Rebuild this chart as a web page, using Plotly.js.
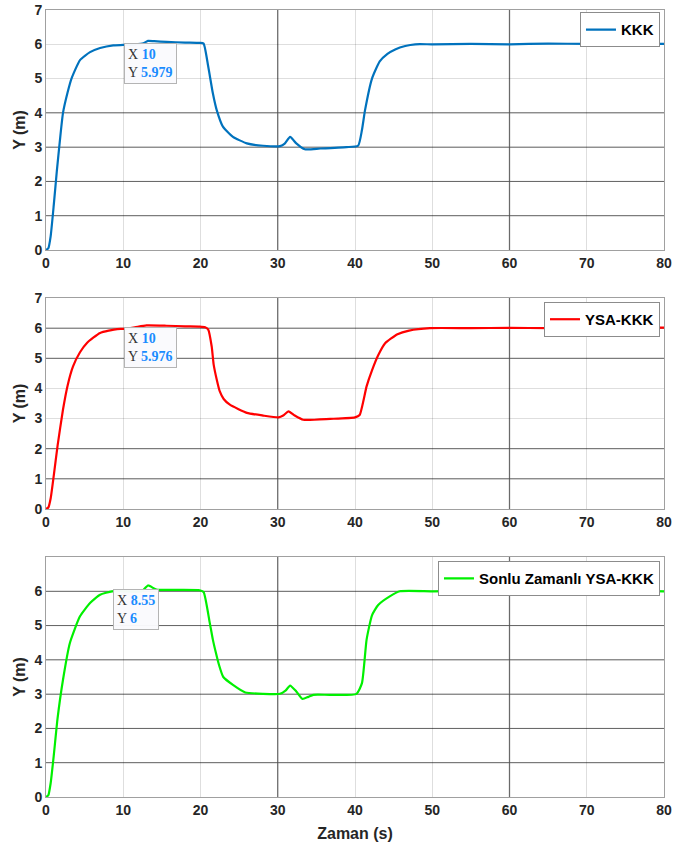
<!DOCTYPE html>
<html>
<head>
<meta charset="utf-8">
<script src="https://cdn.plot.ly/plotly-3.0.1.min.js"></script>
<style>html,body{margin:0;padding:0;background:#fff;}#chart{width:679px;height:854px;}</style>
</head>
<body>
<div id="chart"></div>
<script>
// ---------- data ----------
const seriesNames = ["KKK", "YSA-KKK", "Sonlu Zamanlı YSA-KKK"];

const t_kkk = [0, 0.3, 0.6, 1.0, 1.4, 1.8, 2.2, 2.8, 3.3, 4.4, 5.7, 7.0, 8.7, 10, 11.5, 12.6, 13.2, 14.0, 15.6, 18.0,
  19.9, 20.4, 21.0, 21.6, 22.1, 22.9, 24.2, 26.0, 28.1, 30.3, 30.9, 31.6, 32.4, 33.5, 35.5, 38.9, 40.4, 40.9, 41.3, 42.2,
  43.2, 44.2, 45.2, 46.5, 47.8, 50, 55, 60, 65, 70, 75, 80];
const y_kkk = [0, 0.05, 0.4, 1.3, 2.3, 3.2, 4.0, 4.6, 5.0, 5.54, 5.77, 5.89, 5.97, 5.98, 6.0, 6.03, 6.1, 6.09, 6.07, 6.05,
  6.04, 6.02, 5.35, 4.57, 4.08, 3.6, 3.3, 3.11, 3.04, 3.03, 3.1, 3.3, 3.11, 2.94, 2.96, 3.0, 3.04, 3.5, 4.08, 5.0,
  5.5, 5.72, 5.85, 5.95, 6.0, 6.0, 6.01, 6.0, 6.02, 6.01, 6.02, 6.01];

const t_ysa = [0, 0.3, 0.6, 1.0, 1.5, 2.2, 2.8, 3.5, 4.4, 5.3, 7.0, 9.2, 10, 11.5, 13.0, 15.6, 18.0, 19.9, 20.6, 21.0,
  21.45, 21.7, 22.1, 22.5, 23.0, 23.8, 26.0, 28.1, 30.1, 30.7, 31.4, 32.2, 33.3, 36.8, 40.0, 40.6, 41.5, 42.2, 43.0, 43.9,
  45.5, 47.0, 49.7, 55, 60, 65, 70, 75, 80];
const y_ysa = [0, 0.05, 0.35, 1.1, 2.1, 3.3, 4.1, 4.73, 5.2, 5.51, 5.84, 5.97, 5.976, 6.03, 6.09, 6.08, 6.06, 6.05, 6.03, 5.95,
  5.39, 4.8, 4.3, 3.9, 3.65, 3.46, 3.19, 3.1, 3.04, 3.1, 3.24, 3.1, 2.96, 2.99, 3.04, 3.12, 4.07, 4.6, 5.1, 5.5,
  5.8, 5.92, 6.0, 6.0, 6.01, 6.0, 6.01, 6.02, 6.02];

const t_sz = [0, 0.3, 0.6, 1.0, 1.5, 2.2, 3.1, 4.4, 5.7, 7.0, 8.55, 10, 12.4, 13.2, 14.3, 17.0, 19.9, 20.4, 21.2, 21.6,
  22.0, 22.4, 22.95, 24.2, 25.8, 28.1, 30.3, 31.0, 31.6, 32.4, 33.2, 33.95, 34.6, 36.8, 40.2, 40.9, 41.5, 42.2, 43.0, 44.5,
  45.8, 50, 55, 60, 65, 70, 75, 80];
const y_sz = [0, 0.05, 0.4, 1.2, 2.3, 3.42, 4.5, 5.27, 5.66, 5.9, 6.0, 6.0, 6.0, 6.17, 6.05, 6.04, 6.03, 5.98, 5.08, 4.59,
  4.2, 3.85, 3.5, 3.27, 3.05, 3.01, 3.01, 3.1, 3.25, 3.08, 2.86, 2.92, 2.98, 2.98, 3.01, 3.32, 4.59, 5.3, 5.6, 5.85,
  6.0, 6.0, 6.01, 6.0, 6.02, 6.01, 6.02, 6.0];

// data tips shown on each panel
const tipX = [10, 10, 8.55];
const tipY = [5.979, 5.976, 6];
const tipLabel = ["5.979", "5.976", "6"];

// tick labels
const xTicks = [0, 10, 20, 30, 40, 50, 60, 70, 80];
const yTicksTop = [0, 1, 2, 3, 4, 5, 6, 7];
const yTicksBottom = [0, 1, 2, 3, 4, 5, 6];

// stronger grid lines visible in the reference
const darkGridX = [30, 60];
const darkGridY = [[1, 2, 3, 4], [1, 2, 5, 6], [1, 2, 3, 4, 5, 6]];

// ---------- styling ----------
const colors = ["#0072BD", "#FF0000", "#00F000"];
const FONT = "Liberation Sans, Arial, sans-serif";
const tickFont = {family: FONT, size: 14, color: "#262626", weight: "bold"};

const ts = [t_kkk, t_ysa, t_sz];
const ys = [y_kkk, y_ysa, y_sz];
const legendIds = ["legend", "legend2", "legend3"];

const traces = ts.map((t, i) => ({
  x: t, y: ys[i], type: "scatter", mode: "lines",
  name: seriesNames[i],
  xaxis: i === 0 ? "x" : "x" + (i + 1),
  yaxis: i === 0 ? "y" : "y" + (i + 1),
  legend: legendIds[i],
  line: {color: colors[i], width: 2.2, shape: "spline", smoothing: 0.5},
  hoverinfo: "x+y"
}));

const yDomains = [[0.69504, 1], [0.36595, 0.63405], [0, 0.30495]];
const legendY = [0.997, 0.6290, 0.2996];

const layout = {
  width: 679, height: 854,
  margin: {l: 46, r: 15, t: 10, b: 57},
  paper_bgcolor: "#ffffff", plot_bgcolor: "rgba(0,0,0,0)",
  font: {family: FONT},
  showlegend: true,
  shapes: [], annotations: []
};

const GRID = "rgba(0,0,0,0.13)";
for (let i = 0; i < 3; i++) {
  const xs = i === 0 ? "" : String(i + 1);
  layout["xaxis" + xs] = {
    anchor: "y" + xs, domain: [0, 1], range: [0, 80],
    tickvals: xTicks, ticktext: xTicks.map(String),
    showgrid: true, gridcolor: GRID, gridwidth: 1,
    zeroline: false, showline: true, linecolor: "#a0a0a0", linewidth: 1, mirror: true,
    ticks: "", tickfont: tickFont, automargin: false,
    title: i === 2 ? {text: "Zaman (s)", font: {family: FONT, size: 16, color: "#262626", weight: "bold"}, standoff: 11} : {text: ""}
  };
  layout["yaxis" + xs] = {
    anchor: "x" + xs, domain: yDomains[i], range: [0, 7],
    tickvals: i === 2 ? yTicksBottom : yTicksTop,
    ticktext: (i === 2 ? yTicksBottom : yTicksTop).map(String),
    showgrid: true, gridcolor: GRID, gridwidth: 1,
    zeroline: false, showline: true, linecolor: "#a0a0a0", linewidth: 1, mirror: true,
    ticks: "", tickfont: tickFont, automargin: false,
    title: {text: "Y (m)", font: {family: FONT, size: 16, color: "#262626", weight: "bold"}, standoff: 4}
  };
  layout[legendIds[i]] = {
    x: 0.9935, y: legendY[i], xanchor: "right", yanchor: "top",
    xref: "paper", yref: "paper",
    bgcolor: "#ffffff", bordercolor: "#8c8c8c", borderwidth: 1,
    font: {family: FONT, size: 15, color: "#000000", weight: "bold"},
    itemwidth: 30, tracegroupgap: 0
  };
  darkGridX.forEach(v => layout.shapes.push({
    type: "line", layer: "below", xref: "x" + xs, yref: "y" + xs + " domain",
    x0: v, x1: v, y0: 0, y1: 1, line: {color: "#7a7a7a", width: 1.3}
  }));
  darkGridY[i].forEach(v => layout.shapes.push({
    type: "line", layer: "below", xref: "x" + xs + " domain", yref: "y" + xs,
    x0: 0, x1: 1, y0: v, y1: v, line: {color: "#707070", width: 1}
  }));
  layout.annotations.push({
    xref: "x" + xs, yref: "y" + xs, x: tipX[i], y: tipY[i],
    xanchor: "left", yanchor: "top", xshift: 1, yshift: 2, showarrow: false, align: "left",
    text: "X <span style='color:#1a8cff'><b>" + tipX[i] + "</b></span><br>Y <span style='color:#1a8cff'><b>" + tipLabel[i] + "</b></span>",
    font: {family: "Liberation Serif, Times New Roman, serif", size: 14, color: "#333333"},
    bgcolor: "rgba(250,250,253,0.97)", bordercolor: "#b4b4b4", borderwidth: 1, borderpad: 3
  });
}

Plotly.newPlot("chart", traces, layout, {displayModeBar: false, staticPlot: true});
</script>
</body>
</html>
